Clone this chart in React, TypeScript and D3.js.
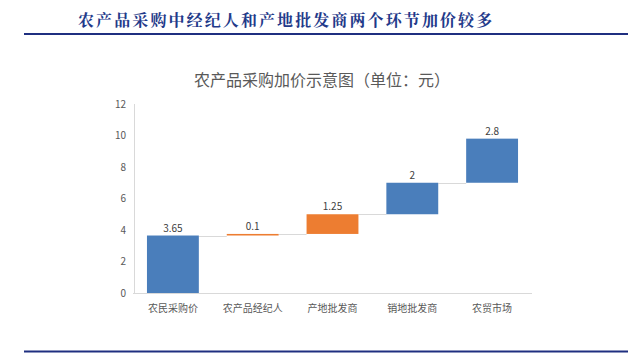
import React from "react";
import * as d3 from "d3";

const categories = ["农民采购价", "农产品经纪人", "产地批发商", "销地批发商", "农贸市场"];
const increments = [3.65, 0.1, 1.25, 2, 2.8];
const labels = ["3.65", "0.1", "1.25", "2", "2.8"];
const barColors = ["#4A7EBB", "#ED7D31", "#ED7D31", "#4A7EBB", "#4A7EBB"];
const yTicks = [0, 2, 4, 6, 8, 10, 12];
const mainTitle = "农产品采购中经纪人和产地批发商两个环节加价较多";
const chartTitle = "农产品采购加价示意图（单位：元）";

const W = 640;
const H = 355;

export default function App() {
  const x = d3.scaleBand<string>().domain(categories).range([133, 532]).paddingInner(0.35).paddingOuter(0.175);
  const y = d3.scaleLinear().domain([0, 12]).range([293, 104]);

  const starts: number[] = [];
  let acc = 0;
  increments.forEach((v) => {
    starts.push(acc);
    acc += v;
  });

  const font = "'Noto Sans CJK SC', 'Microsoft YaHei', sans-serif";

  return (
    <svg
      width={W}
      height={H}
      style={{ position: "absolute", left: 0, top: 0, background: "#fff" }}
    >
      <text
        x={78}
        y={26}
        fontFamily="'Noto Serif CJK SC', 'Noto Sans CJK SC', serif"
        fontWeight={700}
        fontSize={16}
        letterSpacing={2.1}
        fill="#1F3A8A"
      >
        {mainTitle}
      </text>
      <line x1={24} x2={628} y1={34} y2={34} stroke="#1F2F80" strokeWidth={2} />
      <line x1={24} x2={628} y1={351.5} y2={351.5} stroke="#1F2F80" strokeWidth={2} />

      <text x={322} y={86} textAnchor="middle" fontFamily={font} fontSize={16} fill="#595959">
        {chartTitle}
      </text>

      {/* axes */}
      <line x1={134.5} x2={134.5} y1={y(12)} y2={y(0)} stroke="#D9D9D9" strokeWidth={1} />
      <line x1={133} x2={532} y1={y(0) + 0.5} y2={y(0) + 0.5} stroke="#D9D9D9" strokeWidth={1} />
      {yTicks.map((t) => (
        <text
          key={t}
          x={126}
          y={y(t) + 3.5}
          textAnchor="end"
          fontFamily={font}
          fontSize={10}
          fill="#595959"
        >
          {t}
        </text>
      ))}

      {/* connectors */}
      {increments.slice(0, -1).map((v, i) => {
        const top = starts[i] + v;
        return (
          <line
            key={"c" + i}
            x1={(x(categories[i]) as number) + x.bandwidth()}
            x2={x(categories[i + 1]) as number}
            y1={Math.round(y(top)) + 0.5}
            y2={Math.round(y(top)) + 0.5}
            stroke="#D9D9D9"
            strokeWidth={1}
          />
        );
      })}

      {/* bars */}
      {increments.map((v, i) => (
        <rect
          key={"b" + i}
          x={x(categories[i]) as number}
          y={y(starts[i] + v)}
          width={x.bandwidth()}
          height={Math.max(1.5, y(starts[i]) - y(starts[i] + v))}
          fill={barColors[i]}
        />
      ))}

      {/* value labels */}
      {increments.map((v, i) => (
        <text
          key={"l" + i}
          x={(x(categories[i]) as number) + x.bandwidth() / 2}
          y={y(starts[i] + v) - 4}
          textAnchor="middle"
          fontFamily={font}
          fontSize={10}
          fill="#404040"
        >
          {labels[i]}
        </text>
      ))}

      {/* category labels */}
      {categories.map((c) => (
        <text
          key={c}
          x={(x(c) as number) + x.bandwidth() / 2}
          y={312}
          textAnchor="middle"
          fontFamily={font}
          fontSize={10}
          fill="#595959"
        >
          {c}
        </text>
      ))}
    </svg>
  );
}
